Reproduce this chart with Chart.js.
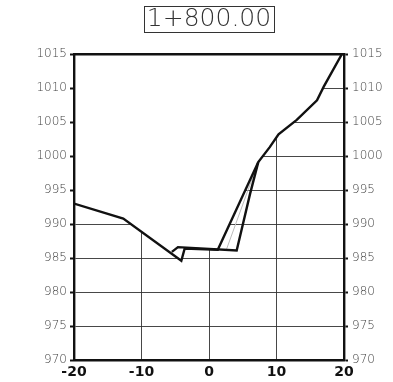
<!DOCTYPE html>
<html><head><meta charset="utf-8">
<script src="https://cdn.jsdelivr.net/npm/chart.js@4/dist/chart.umd.min.js"></script>
<style>html,body{margin:0;padding:0;background:#fff}#wrap{width:393px;height:382px;position:relative}</style>
</head><body><div id="wrap"><canvas id="c"></canvas></div>
<script>
const titleText = '1+800.00';
const groundX = [-20, -12.7, -4.1, -3.6, 1.3, 7.3, 9.0, 10.3, 13.0, 16.0, 17.0, 19.7];
const groundY = [993.0, 990.8, 984.6, 986.4, 986.2, 999.1, 1001.3, 1003.2, 1005.3, 1008.2, 1010.2, 1015.0];
const designX = [-5.5, -4.6, 4.1, 6.1, 7.3];
const designY = [985.9, 986.6, 986.1, 994.5, 999.1];
const guideX = [2.6, 7.1];
const guideY = [986.3, 998.6];
const xMin = -20, xMax = 20, xStep = 10;
const yMin = 970, yMax = 1015, yStep = 5;

const pts = (xs, ys) => xs.map((x, i) => ({x, y: ys[i]}));
const ink = '#111';
const labelFont = {family: '"DejaVu Sans"', size: 12, weight: 200};
const plain = v => String(v);

const titleBox = {
  id: 'titleBox',
  afterDraw(chart) {
    const tb = chart.titleBlock;
    if (!tb) return;
    const ctx = chart.ctx;
    ctx.save();
    ctx.font = '200 25px "DejaVu Sans"';
    const w = ctx.measureText(titleText).width;
    const cx = (tb.left + tb.right) / 2;
    const cy = tb.top + 4 + 15;
    ctx.strokeStyle = '#333';
    ctx.lineWidth = 1;
    ctx.strokeRect(Math.round(cx - w / 2 - 3) + 0.5, Math.round(cy - 13) + 0.5, Math.round(w + 6), 26);
    ctx.restore();
  }
};

new Chart(document.getElementById('c'), {
  type: 'line',
  data: {
    datasets: [
      {label: 'ground', data: pts(groundX, groundY), borderColor: ink, borderWidth: 2.4,
       pointRadius: 0, tension: 0, fill: {target: 'end', above: '#fff', below: '#fff'},
       backgroundColor: '#fff', xAxisID: 'x', yAxisID: 'y'},
      {label: 'design', data: pts(designX, designY), borderColor: ink, borderWidth: 2.4,
       pointRadius: 0, tension: 0, fill: false, xAxisID: 'x', yAxisID: 'y'},
      {label: 'guide', data: pts(guideX, guideY), borderColor: '#bbb', borderWidth: 1,
       pointRadius: 0, tension: 0, fill: false, xAxisID: 'x', yAxisID: 'y'}
    ]
  },
  plugins: [titleBox],
  options: {
    responsive: true, maintainAspectRatio: false, animation: false,
    layout: {padding: 0},
    plugins: {
      legend: {display: false}, tooltip: {enabled: false},
      filler: {drawTime: 'beforeDatasetsDraw'},
      title: {display: true, text: titleText, color: '#333', fullSize: false,
        font: {family: '"DejaVu Sans"', size: 25, weight: 200, lineHeight: 1.2},
        padding: {top: 4, bottom: 20}}
    },
    scales: {
      x: {type: 'linear', position: 'bottom', min: xMin, max: xMax,
        ticks: {stepSize: xStep, color: ink, padding: 4, callback: plain, font: {family: '"DejaVu Sans"', size: 14, weight: 'bold'}},
        grid: {drawTicks: false, lineWidth: 0.9,
          color: c => (c.tick && (c.tick.value === xMin || c.tick.value === xMax)) ? 'rgba(0,0,0,0)' : '#333'},
        border: {display: true, color: ink, width: 2.4, z: 1},
        afterFit: s => { s.height = 22; }},
      x2: {type: 'linear', position: 'top', min: xMin, max: xMax,
        ticks: {display: false}, grid: {display: false, drawTicks: false},
        border: {display: true, color: ink, width: 2.4, z: 1},
        afterFit: s => { s.height = 0; }},
      y: {type: 'linear', position: 'left', min: yMin, max: yMax,
        ticks: {stepSize: yStep, color: '#444', padding: 3, callback: plain, font: labelFont},
        grid: {lineWidth: 0.9, color: '#333', tickLength: 4, tickWidth: 2, tickColor: ink, z: -1},
        border: {display: true, color: ink, width: 2.4, z: 1},
        afterFit: s => { s.width = 74; }},
      y2: {type: 'linear', position: 'right', min: yMin, max: yMax,
        ticks: {stepSize: yStep, color: '#444', padding: 4, callback: plain, font: labelFont},
        grid: {drawOnChartArea: false, tickLength: 4, tickWidth: 2, tickColor: ink},
        border: {display: true, color: ink, width: 2.4, z: 1},
        afterFit: s => { s.width = 49; }}
    }
  }
});
</script></body></html>
